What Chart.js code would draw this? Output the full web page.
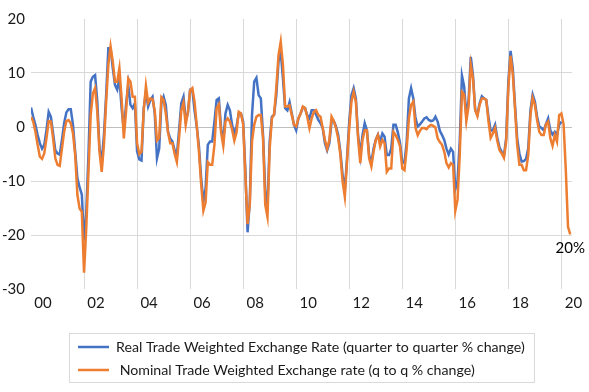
<!DOCTYPE html>
<html>
<head>
<meta charset="utf-8">
<script src="https://cdn.jsdelivr.net/npm/chart.js@4"></script>
<style>
  html, body { margin: 0; padding: 0; background: #fff; }
  canvas { display: block; }
</style>
</head>
<body>
<canvas id="fxChart" width="589" height="392"></canvas>
<script>
// monthly series, Jan 2000 onwards (% change, quarter on quarter)
const startYear = 2000;
const realTwi = [
  3.6, 1.9, 0.4, -1.5, -3.0, -4.0, -3.3, -0.6, 2.8, 1.9,
  -1.2, -4.3, -4.9, -5.1, -2.4, 0.7, 2.7, 3.3, 3.3, 0.4,
  -4.6, -9.5, -11.2, -12.5, -21.0, -16.0, -5.2, 8.4, 9.3, 9.6,
  4.7, -4.0, -6.4, -1.5, 5.9, 14.6, 14.6, 10.9, 7.8, 6.9,
  9.0, 3.5, -0.6, 4.1, 7.8, 4.1, 3.5, 4.4, -4.5, -6.0,
  -6.2, 3.5, 6.5, 3.8, 5.0, 5.6, 2.5, -5.8, -4.0, 4.4,
  5.6, 4.1, -0.9, -2.1, -2.7, -4.3, -5.2, -0.6, 4.4, 5.6,
  1.3, 2.5, 6.9, 6.9, 3.1, 0.1, -3.6, -9.5, -13.8, -11.4,
  -3.3, -2.7, -2.7, 1.0, 5.0, 5.3, -0.2, -2.7, 2.5, 4.1,
  3.1, 0.4, -1.2, 0.1, 2.5, 2.5, 1.0, -8.0, -19.5, -13.8,
  2.2, 8.4, 9.1, 5.9, 5.3, -1.5, -12.0, -14.8, -2.7, 1.9,
  2.3, 5.9, 12.1, 14.0, 9.0, 3.5, 3.1, 4.6, 2.5, 0.4,
  -0.6, 1.6, 2.5, 3.6, 3.5, 2.2, 1.6, 3.1, 3.1, 2.3,
  1.3, 0.7, -0.2, -3.0, -4.3, -3.0, 1.0, 1.1, 0.1, -1.5,
  -4.6, -8.9, -11.7, -5.8, 1.0, 5.9, 7.2, 5.3, -1.5, -5.2,
  -1.5, 0.7, -0.6, -5.2, -6.7, -4.0, -2.4, -1.4, -2.7, -1.2,
  -1.8, -5.2, -5.2, -4.0, 0.4, 0.4, -1.0, -3.0, -6.4, -6.7,
  -2.7, 5.3, 7.2, 5.3, 1.6, 0.1, 0.5, 1.0, 1.6, 1.8,
  1.3, 1.1, 1.2, 1.9, 1.0, -0.7, -1.5, -2.4, -4.0, -5.1,
  -4.0, -4.6, -11.5, -10.0, -2.7, 9.5, 7.5, 2.0, 5.0, 13.0,
  9.5, 3.1, 2.3, 4.4, 5.7, 5.3, 5.0, 1.9, -0.7, -0.6,
  0.4, -2.0, -3.8, -4.6, -5.3, -2.1, 8.4, 14.1, 10.9, 4.1,
  -2.1, -4.9, -6.4, -6.3, -5.9, -4.0, 3.1, 6.0, 4.7, 1.9,
  0.1, -0.2, -0.6, 0.5, 1.6, -0.6, -1.4, -0.9, -1.5, 0.4,
  1.0
];
const nominalTwi = [
  1.9, 1.0, -0.9, -3.3, -5.5, -5.9, -4.9, -2.1, 1.1, 1.0,
  -2.1, -5.8, -7.0, -7.2, -4.0, -0.9, 1.1, 1.3, 0.7, -1.2,
  -5.2, -12.6, -15.1, -15.7, -27.0, -18.8, -8.3, 2.2, 6.2, 7.2,
  2.8, -4.6, -8.3, -3.3, 4.7, 11.5, 14.9, 12.1, 8.4, 8.4,
  10.9, 5.3, -2.1, 2.8, 9.0, 8.4, 5.6, 5.6, -3.0, -5.0,
  -4.6, 3.0, 7.6, 4.5, 5.3, 5.2, 3.0, -2.5, -2.0, 5.5,
  5.0, 2.5, -1.0, -3.0, -3.0, -5.0, -6.5, -2.0, 3.0, 4.5,
  0.4, 2.8, 6.8, 7.2, 4.7, 0.2, -4.6, -10.6, -15.5, -14.0,
  -6.5, -7.0, -7.0, -3.3, 3.5, 4.2, -1.0, -3.5, 1.0, 1.6,
  1.0, -0.5, -2.5, -1.0, 2.8, 2.5, 0.5, -9.0, -18.0, -14.4,
  -2.7, 0.4, 1.9, 2.2, 2.2, -2.1, -14.4, -16.6, -4.0, 1.6,
  2.3, 7.2, 13.3, 15.8, 11.5, 3.8, 3.8, 4.0, 2.2, 0.4,
  0.1, 1.6, 2.5, 3.8, 3.5, 1.9, -0.2, 1.6, 2.8, 3.1,
  2.2, 1.9, -0.2, -2.4, -4.0, -2.4, 1.9, 1.1, -0.2, -2.1,
  -5.2, -10.1, -12.9, -6.4, -0.2, 4.7, 6.5, 4.7, -2.1, -6.7,
  -2.4, -0.6, -0.6, -5.8, -7.3, -4.6, -2.4, -1.5, -3.6, -2.4,
  -3.0, -8.3, -7.7, -7.7, -0.9, -1.5, -2.4, -3.6, -7.7, -8.0,
  -4.0, 1.6, 4.1, 4.7, -0.2, -1.5, -0.7, -0.2, -0.2, -0.4,
  0.1, 0.4, 0.2, -0.1, -2.1, -2.8, -3.3, -4.6, -6.7, -7.5,
  -6.7, -7.0, -15.5, -13.5, -5.2, 6.5, 6.0, 1.1, 3.8, 11.5,
  9.0, 3.1, 2.0, 4.1, 5.3, 5.3, 5.0, 1.1, -2.0, -1.2,
  -0.2, -2.6, -4.3, -4.9, -5.7, -2.7, 7.2, 13.2, 9.9, 3.5,
  -3.3, -7.0, -7.0, -8.0, -8.0, -5.2, 2.2, 5.4, 4.1, 1.3,
  -0.9, -1.5, -1.5, 0.5, 1.0, -2.1, -3.5, -1.5, -2.7, 2.2,
  2.5, 0.5, -8.0, -18.5, -19.9
];
const seriesNames = [
  'Real Trade Weighted Exchange Rate (quarter to quarter % change)',
  ' Nominal Trade Weighted Exchange rate (q to q % change)'
];
const seriesColors = ['#4472C4', '#ED7D31'];
const xTickYears = [2000, 2002, 2004, 2006, 2008, 2010, 2012, 2014, 2016, 2018, 2020];
const yTickValues = [-30, -20, -10, 0, 10, 20];
const endLabel = '20%';

const fontFamily = 'Lato, "Open Sans", sans-serif';

const toPoints = arr => arr.map((v, i) => ({ x: startYear + i / 12, y: v }));

// legend box under the plot and the end-of-series label
const extras = {
  id: 'extras',
  afterDraw(chart) {
    const ctx = chart.ctx;
    ctx.save();
    ctx.strokeStyle = '#d9d9d9';
    ctx.lineWidth = 1;
    ctx.strokeRect(69.5, 333.5, 465, 49);
    ctx.font = '14.2px ' + fontFamily;
    ctx.textBaseline = 'middle';
    ctx.textAlign = 'left';
    seriesNames.forEach((name, i) => {
      const y = 347 + i * 23;
      ctx.strokeStyle = seriesColors[i];
      ctx.lineWidth = 2.5;
      ctx.beginPath();
      ctx.moveTo(78, y);
      ctx.lineTo(109, y);
      ctx.stroke();
      ctx.fillStyle = '#1a1a1a';
      ctx.fillText(name, 116, y);
    });
    const meta = chart.getDatasetMeta(1);
    const last = meta.data[meta.data.length - 1];
    ctx.font = '15px ' + fontFamily;
    ctx.textAlign = 'center';
    ctx.textBaseline = 'top';
    ctx.fillStyle = '#000';
    ctx.fillText(endLabel, last.x, last.y + 6);
    ctx.restore();
  }
};

const ctx = document.getElementById('fxChart').getContext('2d');
new Chart(ctx, {
  type: 'line',
  data: {
    datasets: [{
      label: seriesNames[0],
      data: toPoints(realTwi),
      borderColor: seriesColors[0],
      borderWidth: 2.5,
      pointRadius: 0,
      tension: 0,
      order: 2
    }, {
      label: seriesNames[1],
      data: toPoints(nominalTwi),
      borderColor: seriesColors[1],
      borderWidth: 2.5,
      pointRadius: 0,
      tension: 0,
      order: 1
    }]
  },
  options: {
    responsive: false,
    animation: false,
    layout: { padding: { top: 19, right: 17, bottom: 79, left: 0 } },
    plugins: {
      legend: { display: false },
      tooltip: { enabled: false }
    },
    scales: {
      x: {
        type: 'linear',
        min: 2000,
        max: 2020.4,
        afterBuildTicks: s => { s.ticks = xTickYears.map(v => ({ value: v })); },
        afterFit: s => { s.height = 24; },
        border: { display: false },
        grid: {
          drawTicks: false,
          color: c => (c.tick && c.tick.value === 2000) ? 'rgba(0,0,0,0)' : '#d9d9d9'
        },
        ticks: {
          padding: 5,
          labelOffset: 12,
          maxRotation: 0,
          autoSkip: false,
          color: '#1a1a1a',
          font: { family: fontFamily, size: 15 },
          callback: v => String(v % 100).padStart(2, '0')
        }
      },
      y: {
        min: -30,
        max: 20,
        afterBuildTicks: s => { s.ticks = yTickValues.map(v => ({ value: v })); },
        afterFit: s => { s.width = 31; },
        border: { display: false },
        grid: {
          drawTicks: false,
          color: c => {
            const v = c.tick ? c.tick.value : null;
            if (v === 0) return '#bfbfbf';
            if (v === 20 || v === -30) return 'rgba(0,0,0,0)';
            return '#d9d9d9';
          }
        },
        ticks: {
          padding: 6,
          color: '#1a1a1a',
          font: { family: fontFamily, size: 15 }
        }
      }
    }
  },
  plugins: [extras]
});
</script>
</body>
</html>
